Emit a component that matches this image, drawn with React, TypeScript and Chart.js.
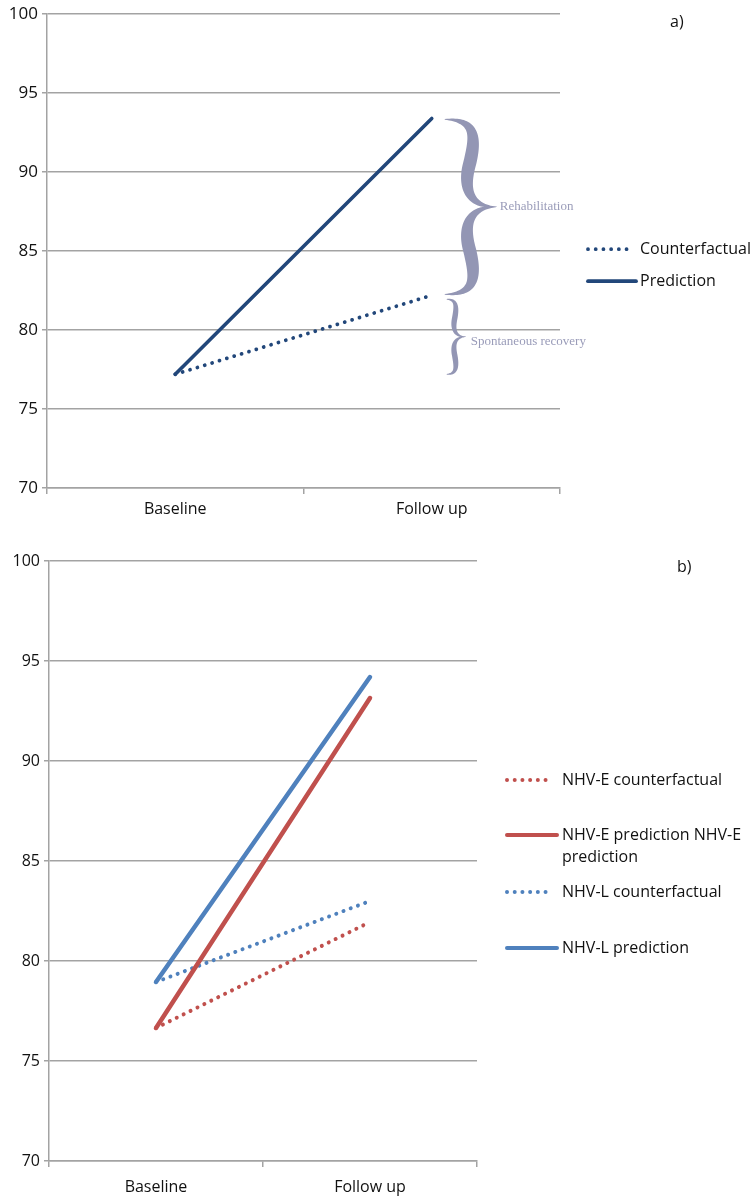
import React, { useEffect, useRef } from "react";
import { Chart, registerables } from "chart.js";

Chart.register(...registerables);

// ---------- data ----------
const categories = ["Baseline", "Follow up"];
const yTicks = [70, 75, 80, 85, 90, 95, 100];

// panel a)
const aCounterfactual = [77.2, 82.2];
const aPrediction = [77.2, 93.4];
const aLegend = ["Counterfactual", "Prediction"];
const aBraceLabels = ["Rehabilitation", "Spontaneous recovery"];

// panel b)
const bNhvECounterfactual = [76.65, 81.95];
const bNhvEPrediction = [76.65, 93.15];
const bNhvLCounterfactual = [78.95, 83.0];
const bNhvLPrediction = [78.95, 94.2];
const bLegend = [
  ["NHV-E counterfactual"],
  ["NHV-E prediction NHV-E", "prediction"],
  ["NHV-L counterfactual"],
  ["NHV-L prediction"],
];

// ---------- styles ----------
const FONT = '"Open Sans", "Noto Sans", sans-serif';
const GRID = "#a3a3a3";
const NAVY = "#22477a";
const RED = "#c0504d";
const BLUE = "#4f81bd";
const BRACE = "#9396b4";
const BRACE_TEXT = "#9a9cb9";
const DOT = [0.01, 7.7];

function baseOptions(padding: any, yWidth: number, xHeight: number, xPad: number, yFont: number) {
  return {
    responsive: false,
    animation: false,
    layout: { padding },
    plugins: { legend: { display: false }, tooltip: { enabled: false } },
    elements: { point: { radius: 0 }, line: { tension: 0 } },
    scales: {
      x: {
        type: "category",
        offset: true,
        grid: {
          display: true,
          drawOnChartArea: false,
          drawTicks: true,
          tickLength: 6,
          offset: true,
          color: GRID,
          lineWidth: 1.5,
        },
        border: { display: true, color: GRID, width: 1.5 },
        ticks: {
          color: "#111",
          font: { family: FONT, size: 16 },
          padding: xPad,
          maxRotation: 0,
          autoSkip: false,
        },
        afterFit: (s: any) => {
          s.height = xHeight;
        },
      },
      y: {
        min: 70,
        max: 100,
        afterBuildTicks: (s: any) => {
          s.ticks = yTicks.map((v) => ({ value: v }));
        },
        ticks: { color: "#111", font: { family: FONT, size: yFont }, padding: 4 },
        grid: { color: GRID, lineWidth: 1.5, tickLength: 5 },
        border: { display: true, color: GRID, width: 1.5 },
        afterFit: (s: any) => {
          s.width = yWidth;
        },
      },
    },
  };
}

function lineDs(label: string, data: number[], color: string, width: number, dotted: boolean) {
  return {
    label,
    data,
    borderColor: color,
    backgroundColor: color,
    borderWidth: width,
    borderCapStyle: "round",
    borderDash: dotted ? DOT : [],
    pointRadius: 0,
    fill: false,
  };
}

function legendSample(ctx: any, x1: number, x2: number, y: number, color: string, width: number, dotted: boolean) {
  ctx.save();
  ctx.strokeStyle = color;
  ctx.lineWidth = width;
  ctx.lineCap = "round";
  ctx.setLineDash(dotted ? DOT : []);
  ctx.beginPath();
  ctx.moveTo(x1, y);
  ctx.lineTo(x2, y);
  ctx.stroke();
  ctx.restore();
}

function bez(p0: number[], p1: number[], p2: number[], p3: number[], t: number) {
  const u = 1 - t;
  return [
    u * u * u * p0[0] + 3 * u * u * t * p1[0] + 3 * u * t * t * p2[0] + t * t * t * p3[0],
    u * u * u * p0[1] + 3 * u * u * t * p1[1] + 3 * u * t * t * p2[1] + t * t * t * p3[1],
  ];
}

function braceHalf(ctx: any, x0: number, yTip: number, stemX: number, pointX: number, ym: number, maxW: number) {
  const h = ym - yTip;
  const bulge = (stemX - x0) * 0.25;
  const A = [[x0, yTip], [stemX + bulge, yTip], [stemX + bulge, yTip + h * 0.2], [stemX, yTip + h * 0.5]];
  const B = [[stemX, yTip + h * 0.5], [stemX - bulge, ym - h * 0.25], [stemX - bulge * 0.5, ym], [pointX, ym]];
  const pts: number[][] = [];
  const ws: number[] = [];
  const N = 40;
  for (let i = 0; i <= N; i++) {
    const t = i / N;
    pts.push(bez(A[0], A[1], A[2], A[3], t));
    ws.push(0.8 + (maxW - 0.8) * Math.sin(Math.PI * t * 0.5));
  }
  for (let i = 1; i <= N; i++) {
    const t = i / N;
    pts.push(bez(B[0], B[1], B[2], B[3], t));
    ws.push(0.3 + (maxW - 0.3) * Math.sin(Math.PI * (0.5 + t * 0.5)));
  }
  const left: number[][] = [];
  const right: number[][] = [];
  for (let i = 0; i < pts.length; i++) {
    const a = pts[Math.max(0, i - 1)];
    const b = pts[Math.min(pts.length - 1, i + 1)];
    let dx = b[0] - a[0];
    let dy = b[1] - a[1];
    const len = Math.hypot(dx, dy) || 1;
    dx /= len;
    dy /= len;
    const nx = -dy;
    const ny = dx;
    const w = ws[i] / 2;
    left.push([pts[i][0] + nx * w, pts[i][1] + ny * w]);
    right.push([pts[i][0] - nx * w, pts[i][1] - ny * w]);
  }
  ctx.beginPath();
  ctx.moveTo(left[0][0], left[0][1]);
  for (let i = 1; i < left.length; i++) ctx.lineTo(left[i][0], left[i][1]);
  for (let i = right.length - 1; i >= 0; i--) ctx.lineTo(right[i][0], right[i][1]);
  ctx.closePath();
  ctx.fill();
}

function drawBrace(ctx: any, x0: number, y1: number, y2: number, stemX: number, pointX: number, maxW: number) {
  const ym = (y1 + y2) / 2;
  ctx.save();
  ctx.fillStyle = BRACE;
  braceHalf(ctx, x0, y1, stemX, pointX, ym, maxW);
  braceHalf(ctx, x0, y2, stemX, pointX, ym, maxW);
  ctx.restore();
  return ym;
}

const panelAPlugin = {
  id: "panelA",
  afterDraw(chart: any) {
    const ctx = chart.ctx;
    const xs = chart.scales.x;
    const ys = chart.scales.y;
    const ca = chart.chartArea;
    const xf = xs.getPixelForValue(1);

    // braces
    const yPred = ys.getPixelForValue(aPrediction[1]) + 1;
    const yCf = ys.getPixelForValue(aCounterfactual[1]) - 1;
    const yCf2 = ys.getPixelForValue(aCounterfactual[1]) + 4;
    const yBase = ys.getPixelForValue(aCounterfactual[0]);
    const ym1 = drawBrace(ctx, xf + 13, yPred, yCf, xf + 38, xf + 65, 13);
    const ym2 = drawBrace(ctx, xf + 15, yCf2, yBase, xf + 23, xf + 34, 5.5);

    ctx.save();
    ctx.fillStyle = BRACE_TEXT;
    ctx.font = '13px "Liberation Serif", "DejaVu Serif", serif';
    ctx.textBaseline = "middle";
    ctx.textAlign = "left";
    ctx.fillText(aBraceLabels[0], xf + 68, ym1);
    ctx.fillText(aBraceLabels[1], xf + 39, ym2 + 5);
    ctx.restore();

    // legend
    const lx1 = ca.right + 28;
    const ly0 = ca.top + 235;
    legendSample(ctx, lx1, lx1 + 42, ly0, NAVY, 3.8, true);
    legendSample(ctx, lx1, lx1 + 48, ly0 + 32, NAVY, 3.8, false);
    ctx.save();
    ctx.fillStyle = "#111";
    ctx.font = `16px ${FONT}`;
    ctx.textBaseline = "middle";
    ctx.textAlign = "left";
    ctx.fillText(aLegend[0], lx1 + 52, ly0);
    ctx.fillText(aLegend[1], lx1 + 52, ly0 + 32);
    ctx.fillText("a)", 670, 22);
    ctx.restore();
  },
};

const panelBPlugin = {
  id: "panelB",
  afterDraw(chart: any) {
    const ctx = chart.ctx;
    const ca = chart.chartArea;
    const lx1 = ca.right + 30;
    const ly = [ca.top + 219, ca.top + 274, ca.top + 331, ca.top + 387];
    const styles = [
      [RED, true],
      [RED, false],
      [BLUE, true],
      [BLUE, false],
    ];
    ctx.save();
    ctx.fillStyle = "#111";
    ctx.font = `16px ${FONT}`;
    ctx.textBaseline = "middle";
    ctx.textAlign = "left";
    bLegend.forEach((lines, i) => {
      const [color, dotted] = styles[i] as [string, boolean];
      legendSample(ctx, lx1, lx1 + (dotted ? 45 : 50), ly[i], color, 4, dotted);
      lines.forEach((t, j) => ctx.fillText(t, lx1 + 55, ly[i] + j * 22));
    });
    ctx.fillText("b)", 677, 27);
    ctx.restore();
  },
};

function configA() {
  return {
    type: "line",
    data: {
      labels: categories,
      datasets: [
        lineDs("Counterfactual", aCounterfactual, NAVY, 3.8, true),
        lineDs("Prediction", aPrediction, NAVY, 3.6, false),
      ],
    },
    options: baseOptions({ left: 0, right: 192, top: 11, bottom: 0 }, 47, 52, 6, 17),
    plugins: [panelAPlugin],
  };
}

function configB() {
  return {
    type: "line",
    data: {
      labels: categories,
      datasets: [
        lineDs("NHV-E counterfactual", bNhvECounterfactual, RED, 4, true),
        lineDs("NHV-E prediction NHV-E prediction", bNhvEPrediction, RED, 4.5, false),
        lineDs("NHV-L counterfactual", bNhvLCounterfactual, BLUE, 4, true),
        lineDs("NHV-L prediction", bNhvLPrediction, BLUE, 4.5, false),
      ],
    },
    options: baseOptions({ left: 0, right: 275, top: 21, bottom: 0 }, 49, 39, 11, 16),
    plugins: [panelBPlugin],
  };
}

function ChartCanvas({ top, height, config }: { top: number; height: number; config: () => any }) {
  const ref = useRef<HTMLCanvasElement | null>(null);
  useEffect(() => {
    const c = new Chart(ref.current as any, config() as any);
    return () => c.destroy();
  }, []);
  return (
    <canvas
      ref={ref}
      width={752}
      height={height}
      style={{ position: "absolute", left: 0, top, width: 752, height }}
    />
  );
}

export default function App() {
  return (
    <div style={{ position: "absolute", left: 0, top: 0, width: 752, height: 1200, background: "#fff" }}>
      <ChartCanvas top={0} height={540} config={configA} />
      <ChartCanvas top={540} height={660} config={configB} />
    </div>
  );
}
